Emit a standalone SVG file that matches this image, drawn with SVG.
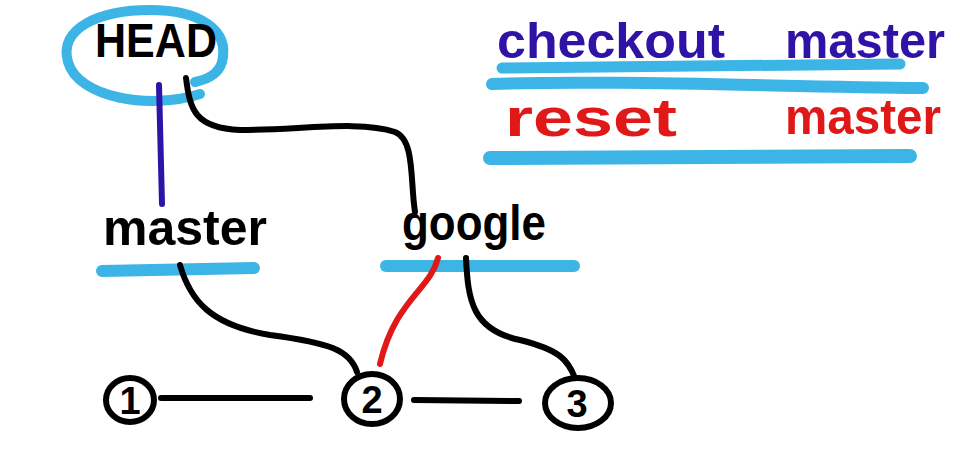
<svg xmlns="http://www.w3.org/2000/svg" width="960" height="467" viewBox="0 0 960 467">
<style>
.hl{fill:none;stroke:#3cb4e6;stroke-linecap:round}
.ink{fill:none;stroke:#000;stroke-width:6;stroke-linecap:round;stroke-linejoin:round}
.t{font-family:"Liberation Sans",Arial,sans-serif;font-weight:bold}
</style>
<rect width="960" height="467" fill="#fff"/>
<!-- highlights -->
<path class="hl" stroke-width="10" d="M200,94 C150,110 78,98 68,62 C58,28 100,10 150,10 C200,10 230,30 222,62 C218,76 205,80 195,82"/>
<path class="hl" stroke-width="11" d="M502,68 L900,64"/>
<path class="hl" stroke-width="12" d="M492,84 C600,80 760,86 923,88"/>
<path class="hl" stroke-width="14" d="M490,158 L910,156"/>
<path class="hl" stroke-width="12" d="M102,271 L254,268"/>
<path class="hl" stroke-width="12" d="M386,266 L574,266"/>
<!-- connectors -->
<g id="connectors">
<path d="M159,85 L162,204" fill="none" stroke="#2f13a6" stroke-width="6" stroke-linecap="round"/>
<path class="ink" d="M186,78 C190,110 195,128 240,130 C300,130 360,120 395,132 C415,140 410,180 415,212"/>
<path class="ink" d="M180,265 C190,300 210,325 270,335 C330,343 350,350 357,372"/>
<path d="M438,258 C430,290 395,300 380,364" fill="none" stroke="#e01818" stroke-width="6" stroke-linecap="round"/>
<path class="ink" d="M466,258 C468,300 472,330 520,340 C560,350 568,360 575,378"/>
<path class="ink" d="M161,398 L310,398"/>
<path class="ink" d="M414,400 L519,401"/>
</g>
<!-- nodes -->
<g id="head"><text class="t" x="95" y="57" font-size="48" textLength="122" lengthAdjust="spacingAndGlyphs">HEAD</text></g>
<g id="master"><text class="t" x="103" y="245" font-size="50" textLength="164" lengthAdjust="spacingAndGlyphs">master</text></g>
<g id="google"><text class="t" x="402" y="240" font-size="50" textLength="144" lengthAdjust="spacingAndGlyphs">google</text></g>
<g id="c1"><ellipse cx="130" cy="400" rx="24" ry="22" fill="none" stroke="#000" stroke-width="6"/><text class="t" x="130" y="414" font-size="38" text-anchor="middle">1</text></g>
<g id="c2"><ellipse cx="372" cy="399" rx="28" ry="25" fill="none" stroke="#000" stroke-width="6"/><text class="t" x="372" y="413" font-size="38" text-anchor="middle">2</text></g>
<g id="c3"><ellipse cx="578" cy="403" rx="33" ry="25" fill="none" stroke="#000" stroke-width="6"/><text class="t" x="577" y="417" font-size="38" text-anchor="middle">3</text></g>
<g id="cmd1">
<text class="t" x="497" y="58" font-size="50" fill="#2f13a6" textLength="228" lengthAdjust="spacingAndGlyphs">checkout</text>
<text class="t" x="785" y="58" font-size="50" fill="#2f13a6" textLength="160" lengthAdjust="spacingAndGlyphs">master</text>
</g>
<g id="cmd2">
<text class="t" x="505" y="136" font-size="54" fill="#e01818" textLength="172" lengthAdjust="spacingAndGlyphs">reset</text>
<text class="t" x="785" y="134" font-size="50" fill="#e01818" textLength="156" lengthAdjust="spacingAndGlyphs">master</text>
</g>
</svg>
